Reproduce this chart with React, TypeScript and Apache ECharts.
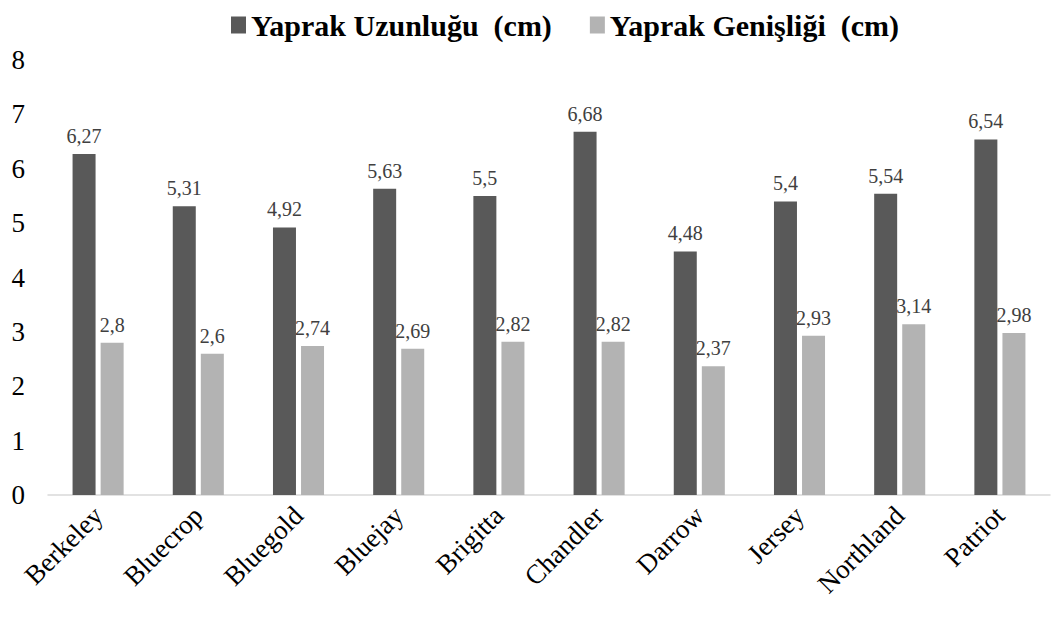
import React, { useEffect, useRef } from "react";
import * as echarts from "echarts";

const categories = ["Berkeley", "Bluecrop", "Bluegold", "Bluejay", "Brigitta", "Chandler", "Darrow", "Jersey", "Northland", "Patriot"];
const lengthValues = [6.27, 5.31, 4.92, 5.63, 5.5, 6.68, 4.48, 5.4, 5.54, 6.54];
const widthValues = [2.8, 2.6, 2.74, 2.69, 2.82, 2.82, 2.37, 2.93, 3.14, 2.98];
const seriesNames = ["Yaprak Uzunluğu  (cm)", "Yaprak Genişliği  (cm)"];

const FONT = "Liberation Serif";
const fmt = (v: number) => String(v).replace(".", ",");

export default function App() {
  const ref = useRef<HTMLDivElement>(null);
  useEffect(() => {
    if (!ref.current) return;
    const chart = echarts.init(ref.current, null, { renderer: "svg" });
    const label = {
      show: true,
      position: "top",
      distance: 8,
      color: "#404040",
      fontFamily: FONT,
      fontSize: 20,
      formatter: (p: any) => fmt(p.value),
    };
    chart.setOption({
      animation: false,
      backgroundColor: "#ffffff",
      textStyle: { fontFamily: FONT },
      legend: {
        top: 5,
        left: 226,
        itemWidth: 15,
        itemHeight: 17,
        itemGap: 38,
        icon: "rect",
        textStyle: { fontFamily: FONT, fontSize: 30, fontWeight: "bold", color: "#000" },
        data: seriesNames,
      },
      grid: { left: 48, right: 9, top: 60, bottom: 124, containLabel: false },
      xAxis: {
        type: "category",
        data: categories,
        axisLine: { lineStyle: { color: "#d9d9d9", width: 1.5 } },
        axisTick: { show: false },
        axisLabel: { rotate: 45, fontFamily: FONT, fontSize: 27, color: "#000", margin: 16, interval: 0 },
      },
      yAxis: {
        type: "value",
        min: 0,
        max: 8,
        interval: 1,
        splitLine: { show: false },
        axisLine: { show: false },
        axisTick: { show: false },
        axisLabel: { fontFamily: FONT, fontSize: 27, color: "#000", margin: 23 },
      },
      series: [
        {
          name: seriesNames[0],
          type: "bar",
          data: lengthValues,
          barWidth: 23,
          barGap: "22%",
          itemStyle: { color: "#595959" },
          label,
        },
        {
          name: seriesNames[1],
          type: "bar",
          data: widthValues,
          barWidth: 23,
          itemStyle: { color: "#b3b3b3" },
          label,
        },
      ],
    });
    return () => chart.dispose();
  }, []);
  return <div ref={ref} style={{ width: 1059, height: 619, position: "absolute", left: 0, top: 0 }} />;
}
